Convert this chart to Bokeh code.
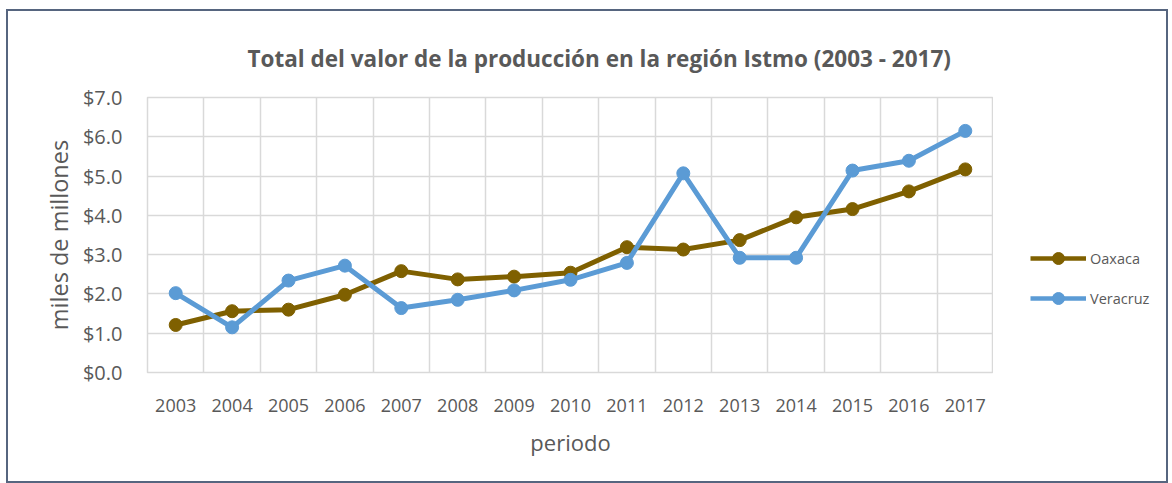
from bokeh.plotting import figure
from bokeh.layouts import row
from bokeh.models import (ColumnDataSource, FixedTicker, NumeralTickFormatter,
                          Legend, LegendItem, Title)
from bokeh.embed import file_html
from bokeh.resources import INLINE

years = [2003, 2004, 2005, 2006, 2007, 2008, 2009, 2010, 2011, 2012, 2013, 2014, 2015, 2016, 2017]
oaxaca = [1.21, 1.56, 1.60, 1.98, 2.58, 2.37, 2.44, 2.54, 3.19, 3.13, 3.37, 3.95, 4.16, 4.61, 5.17]
veracruz = [2.02, 1.15, 2.34, 2.72, 1.64, 1.85, 2.09, 2.36, 2.79, 5.07, 2.92, 2.92, 5.14, 5.39, 6.15]
y_ticks = [0, 1, 2, 3, 4, 5, 6, 7]
series_names = ["Oaxaca", "Veracruz"]

title_text = "Total del valor de la producción en la región Istmo (2003 - 2017)"
FONT = "Open Sans"
TXT = "#595959"
GRID = "#D9D9D9"
C_OAX = "#7F6000"
C_VER = "#5B9BD5"
H = 470

p = figure(width=985, height=H, output_backend="svg", toolbar_location=None,
           x_range=(years[0] - 0.5, years[-1] + 0.5), y_range=(0, 7),
           min_border_left=139, min_border_right=0, min_border_top=86,
           min_border_bottom=109)

t = Title(text=title_text, align="left", vertical_align="top", text_font=FONT,
          text_font_size="22.5px", text_font_style="bold", text_color=TXT,
          offset=100, standoff=44)
p.add_layout(t, "above")

src = ColumnDataSource(dict(x=years, oax=oaxaca, ver=veracruz))

p.line("x", "oax", source=src, line_color=C_OAX, line_width=5)
p.scatter("x", "oax", source=src, size=13, fill_color=C_OAX, line_color=C_OAX)
p.line("x", "ver", source=src, line_color=C_VER, line_width=5)
p.scatter("x", "ver", source=src, size=13, fill_color=C_VER, line_color=C_VER)

# axes
p.xaxis.ticker = FixedTicker(ticks=years)
p.yaxis.ticker = FixedTicker(ticks=y_ticks)
p.yaxis.formatter = NumeralTickFormatter(format="$0.0")
for ax in (p.xaxis[0], p.yaxis[0]):
    ax.axis_line_color = None
    ax.major_tick_line_color = None
    ax.minor_tick_line_color = None
    ax.major_label_text_font = FONT
    ax.major_label_text_color = TXT
    ax.axis_label_text_font = FONT
    ax.axis_label_text_color = TXT
    ax.axis_label_text_font_style = "normal"
p.xaxis.major_label_text_font_size = "18px"
p.yaxis.major_label_text_font_size = "20px"
p.xaxis.axis_label_text_font_size = "22px"
p.yaxis.axis_label_text_font_size = "23.5px"
p.xaxis.major_label_standoff = 20
p.yaxis.major_label_standoff = 19
p.xaxis.axis_label = "periodo"
p.yaxis.axis_label = "miles de millones"
p.xaxis.axis_label_standoff = 12
p.yaxis.axis_label_standoff = 5

# grid
p.xgrid.ticker = FixedTicker(ticks=[y + 0.5 for y in years[:-1]])
p.xgrid.grid_line_color = GRID
p.xgrid.grid_line_width = 1.5
p.ygrid.grid_line_color = GRID
p.ygrid.grid_line_width = 1.5
p.outline_line_color = GRID
p.outline_line_width = 1.5

# legend panel (separate figure to the right so the legend is not clipped);
# its renderers use the same data but lie outside this panel's ranges
pl = figure(width=173, height=H, output_backend="svg", toolbar_location=None,
            x_range=(0, 1), y_range=(0, 1), min_border=0)
pl.axis.visible = False
pl.grid.visible = False
pl.outline_line_color = None
lo1 = pl.line("x", "oax", source=src, line_color=C_OAX, line_width=4.5)
so1 = pl.scatter("x", "oax", source=src, size=13, fill_color=C_OAX, line_color=C_OAX)
lo2 = pl.line("x", "ver", source=src, line_color=C_VER, line_width=4.5)
so2 = pl.scatter("x", "ver", source=src, size=13, fill_color=C_VER, line_color=C_VER)

legend = Legend(items=[LegendItem(label=series_names[0], renderers=[lo1, so1]),
                       LegendItem(label=series_names[1], renderers=[lo2, so2])],
                location=(37, 59), orientation="vertical",
                glyph_width=56, glyph_height=30, label_height=20, spacing=10,
                label_standoff=4, padding=0, margin=0,
                border_line_color=None, background_fill_alpha=0,
                label_text_font=FONT, label_text_font_size="14.5px",
                label_text_color=TXT)
pl.add_layout(legend, "center")

layout = row(p, pl)
layout.styles = {"border": "2px solid #56657F", "margin-left": "6px", "margin-top": "9px",
                 "gap": "0px"}
layout.spacing = 0

open("out.html", "w").write(file_html(layout, INLINE))
